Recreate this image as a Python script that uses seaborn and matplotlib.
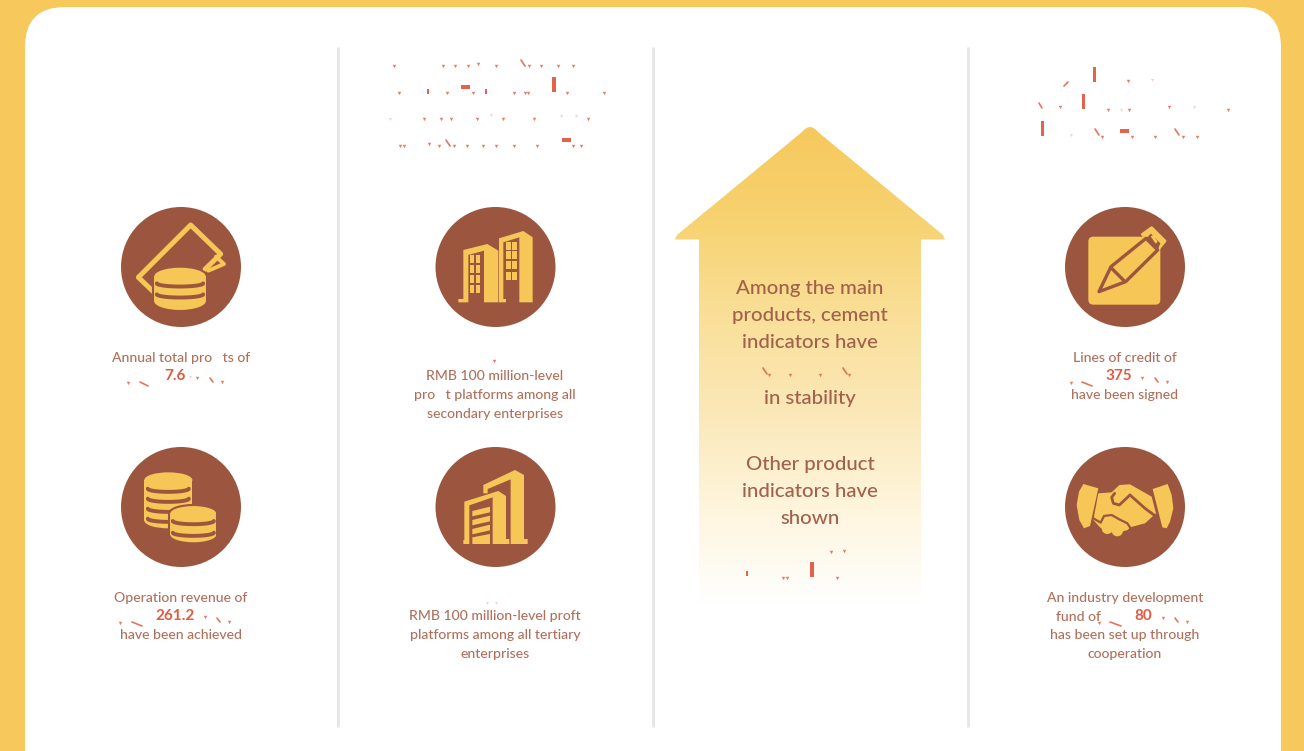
import numpy as np
import seaborn as sns
import matplotlib.pyplot as plt
from matplotlib.patches import Circle, Ellipse, FancyBboxPatch, PathPatch, Polygon, Rectangle
from matplotlib.path import Path

sns.set_theme(style="white")
plt.rcParams["font.family"] = ["Lato", "DejaVu Sans"]

YELLOW = "#F7C95C"
ICON = "#F6C656"
BROWN = "#9C5640"
TEXT = "#B0705C"
TEXT_MID = "#A2614B"
RED = "#E25A40"

# text lines: (x centre, y centre, string)
small_lines = [
    (181, 357, "Annual total pro   ts of"),
    (181, 597, "Operation revenue of"),
    (181, 634, "have been achieved"),
    (495, 375, "RMB 100 million-level"),
    (495, 394, "pro   t platforms among all"),
    (495, 413, "secondary enterprises"),
    (495, 615, "RMB 100 million-level proft"),
    (495, 634, "platforms among all tertiary"),
    (495, 653, "enterprises"),
    (1125, 357, "Lines of credit of"),
    (1125, 394, "have been signed"),
    (1125, 597, "An industry development"),
    (1078, 616, "fund of"),
    (1125, 634, "has been set up through"),
    (1125, 653, "cooperation"),
]
arrow_lines = [
    (810, 287, "Among the main"),
    (810, 314, "products, cement"),
    (810, 341, "indicators have"),
    (810, 397, "in stability"),
    (810, 463, "Other product"),
    (810, 490, "indicators have"),
    (810, 517, "shown"),
]
values = [(175, 376, "7.6"), (175, 616, "261.2"), (1119, 376, "375"), (1143, 616, "80")]

circle_x = [181, 495.5, 1125]
circle_y = [267, 507]
divider_x = [338, 653, 968]

# leftovers of the missing glyphs
frag_bars = [
    (552, 77, 4, 15), (461, 85, 9, 4), (562, 138, 9, 4), (427, 89, 2, 5), (485, 89, 2, 5),
    (1093, 67, 3.4, 15), (1082, 94, 3.4, 15), (1041, 121, 3.4, 15), (1120, 129, 8.5, 4),
    (810, 562, 4, 15), (746, 571, 2, 5),
]
frag_strokes = [
    (140, 382, 148, 386), (132, 622, 142, 626), (1082, 382, 1092, 386), (1110, 622, 1121, 626),
    (521, 60, 525, 66), (446, 140, 450, 146), (1039, 103, 1042, 108), (1095, 129, 1099, 135),
    (1175, 129, 1179, 135), (763, 368, 767, 374), (843, 368, 847, 374), (1064, 86, 1068, 82),
    (210, 378, 213, 382), (217, 618, 220, 622), (1155, 378, 1158, 382), (1175, 618, 1178, 622),
]
frag_ticks_x = [394, 443, 455, 468, 478, 496, 529, 541, 558, 573,
                399, 447, 473, 514, 525, 528, 567, 604,
                424, 441, 451, 477, 503, 534, 588,
                400, 404, 429, 439, 454, 467, 483, 496, 514, 537, 573, 581,
                1128, 1060, 1108, 1129, 1169, 1228, 1102, 1132, 1155, 1183, 1197,
                128, 197, 222,
                120, 205, 229,
                1071, 1142, 1167,
                1099, 1163, 1187,
                494, 769, 790, 820, 849, 831, 844, 783, 787, 837]
frag_ticks_y = [66, 66, 66, 66, 64, 66, 66, 66, 66, 66,
                93, 93, 93, 93, 93, 93, 93, 93,
                119, 119, 119, 119, 119, 119, 119,
                146, 146, 144, 146, 146, 146, 146, 146, 146, 146, 146, 146,
                81, 107, 110, 110, 107, 110, 137, 137, 137, 137, 137,
                383, 378, 382,
                623, 617, 622,
                383, 378, 382,
                623, 618, 622,
                361, 375, 375, 375, 375, 552, 551, 578, 578, 578]
faint_x = [390, 561, 576, 491, 1152, 1121, 1194, 1071, 190, 487, 496]
faint_y = [119, 116, 116, 115, 80, 110, 107, 135, 377, 603, 603]


def zpts(points, ox, oy):
    return [(ox + x / 3, oy + y / 3) for x, y in points]


def poly(ax, points, ox, oy, color=ICON, z=4, **kw):
    ax.add_patch(Polygon(zpts(points, ox, oy), closed=True, fc=color, ec="none", zorder=z, **kw))


def coins(ax, ox, oy, cx, top, bottom, rx, ry, stripes, z=4, edge=False):
    c, t, b, r, h = ox + cx / 3, oy + top / 3, oy + bottom / 3, rx / 3, ry / 3
    lw = 1.5 if edge else 0
    ec = BROWN if edge else "none"
    ax.add_patch(Ellipse((c, b), 2 * r, 2 * h, fc=ICON, ec=ec, lw=lw, zorder=z))
    ax.add_patch(Ellipse((c, t), 2 * r, 2 * h, fc=ICON, ec=ec, lw=lw, zorder=z))
    ax.add_patch(Rectangle((c - r, t), 2 * r, b - t, fc=ICON, ec="none", zorder=z))
    if edge:
        ax.plot([c - r, c - r], [t, b], color=BROWN, lw=lw, zorder=z)
        ax.plot([c + r, c + r], [t, b], color=BROWN, lw=lw, zorder=z)
    ang = np.linspace(0, np.pi, 40)
    for s in stripes:
        ax.plot(c + (r - 3.5) * np.cos(ang), oy + s / 3 + 3.2 * np.sin(ang), color=BROWN, lw=2.8,
                solid_capstyle="round", zorder=z + 1)


def icon_cash(ax, ox, oy):
    card = zpts([(160, 275), (115, 232), (272, 75), (362, 162), (315, 208)], ox, oy)
    ax.plot(*zip(*card), color=ICON, lw=3.6, solid_capstyle="round", solid_joinstyle="round", zorder=3)
    back = zpts([(348, 170), (372, 192), (325, 212)], ox, oy)
    ax.plot(*zip(*back), color=ICON, lw=2.8, solid_joinstyle="round", zorder=3)
    coins(ax, ox, oy, 240, 228, 305, 80, 28, [250, 283], edge=True)


def icon_stacks(ax, ox, oy):
    coins(ax, ox, oy, 205, 120, 242, 72, 23, [146, 176, 206, 236])
    coins(ax, ox, oy, 280, 220, 285, 72, 25, [243, 278], z=6, edge=True)


def icon_towers(ax, ox, oy):
    # left tower
    poly(ax, [(190, 150), (262, 132), (295, 152), (295, 307), (252, 307), (252, 152), (205, 165),
              (205, 307), (175, 307), (175, 297), (190, 297)], ox, oy)
    # right tower
    poly(ax, [(297, 115), (370, 93), (398, 112), (398, 307), (358, 307), (358, 112), (310, 127),
              (310, 297), (318, 297), (318, 307), (297, 307)], ox, oy)
    for wx in (209, 227):
        for wy in (165, 195, 225, 255):
            poly(ax, [(wx, wy), (wx + 14, wy), (wx + 14, wy + 24), (wx, wy + 24)], ox, oy)
    for wx in (317, 335):
        for wy in (125, 153, 184, 215):
            poly(ax, [(wx, wy), (wx + 15, wy), (wx + 15, wy + 24), (wx, wy + 24)], ox, oy)


def icon_blocks(ax, ox, oy):
    poly(ax, [(250, 135), (345, 90), (372, 105), (372, 297), (383, 297), (383, 312), (332, 312),
              (332, 118), (263, 147), (263, 160), (250, 160)], ox, oy)
    poly(ax, [(193, 185), (295, 153), (318, 168), (318, 297), (328, 297), (328, 312), (278, 312),
              (278, 172), (208, 196), (208, 312), (190, 312), (190, 300), (193, 300)], ox, oy)
    for top in (205, 232, 259):
        poly(ax, [(217, top + 8), (270, top - 5), (270, top + 12), (217, top + 24)], ox, oy)
    poly(ax, [(217, 292), (270, 282), (270, 312), (217, 312)], ox, oy)


def icon_pencil(ax, ox, oy):
    x0, y0 = ox + 10 / 3, oy + 35 / 3
    ax.add_patch(FancyBboxPatch((x0 + 5, y0 + 5), 62, 58, boxstyle="round,pad=5,rounding_size=5",
                                fc=ICON, ec="none", zorder=4))
    # end of the pencil sticks out of the square
    cap = zpts([(172, 28), (200, 8), (240, 48), (218, 75)], ox, oy)
    ax.add_patch(Polygon(cap, closed=True, fc=ICON, ec=ICON, lw=2, joinstyle="round", zorder=4))
    body = zpts([(42, 200), (78, 125), (183, 40), (218, 75), (122, 170)], ox, oy)
    ax.add_patch(Polygon(body, closed=True, fc=ICON, ec=BROWN, lw=2.4, joinstyle="round", zorder=5))
    poly(ax, [(183, 40), (198, 26), (226, 55), (218, 75)], ox, oy, color=BROWN, z=6)
    poly(ax, [(197, 34), (206, 30), (218, 50), (212, 56)], ox, oy, z=7)
    band = zpts([(80, 130), (116, 166)], ox, oy)
    ax.plot(*zip(*band), color=BROWN, lw=2.4, zorder=6)


def icon_shake(ax, ox, oy):
    poly(ax, [(160, 132), (205, 145), (180, 258), (162, 265), (148, 240), (140, 195), (147, 155)], ox, oy)
    poly(ax, [(368, 147), (413, 132), (425, 165), (430, 205), (420, 245), (410, 265), (397, 262)], ox, oy)
    poly(ax, [(205, 160), (245, 157), (268, 135), (300, 133), (365, 170), (378, 220), (345, 250),
              (300, 262), (270, 280), (230, 275), (210, 262), (190, 240)], ox, oy)
    for cx, cy, r in [(232, 265, 17), (262, 272, 17), (285, 258, 14)]:
        ax.add_patch(Circle((ox + cx / 3, oy + cy / 3), r / 3, fc=ICON, ec="none", zorder=4))
    line = zpts([(300, 165), (268, 195), (250, 190), (245, 172), (254, 160)], ox, oy)
    ax.plot(*zip(*line), color=BROWN, lw=2, zorder=5, solid_joinstyle="round", solid_capstyle="round")
    line = zpts([(300, 165), (345, 205), (372, 225)], ox, oy)
    ax.plot(*zip(*line), color=BROWN, lw=2, zorder=5)
    line = zpts([(190, 235), (212, 248), (222, 228), (245, 225), (268, 238), (292, 250), (300, 262)], ox, oy)
    ax.plot(*zip(*line), color=BROWN, lw=1.6, zorder=5, solid_joinstyle="round")


fig = plt.figure(figsize=(13.04, 7.51), dpi=100, facecolor=YELLOW)
ax = fig.add_axes([0, 0, 1, 1])
ax.set_facecolor(YELLOW)

# white card, runs off the bottom
ax.add_patch(FancyBboxPatch((65, 47), 1176, 800, boxstyle="round,pad=40,rounding_size=40",
                            fc="white", ec="none", zorder=1))

for x in divider_x:
    ax.plot([x, x], [47, 727], color="#E6E6E6", lw=2, solid_capstyle="butt", zorder=2)

for x in circle_x:
    for y in circle_y:
        ax.add_patch(Circle((x, y), 60, fc=BROWN, ec="none", zorder=2))

icon_cash(ax, 100, 200)
icon_stacks(ax, 100, 440)
icon_towers(ax, 400, 200)
icon_blocks(ax, 400, 440)
icon_pencil(ax, 1085, 225)
icon_shake(ax, 1030, 440)

# arrow with the fade to white, apex and wing tips slightly rounded
arrow_verts = [(802, 132), (810, 122), (818, 132), (943, 235), (945, 239.5), (921, 239.5),
               (921, 605), (699, 605), (699, 239.5), (675, 239.5), (677, 235), (802, 132)]
arrow_codes = [Path.MOVETO, Path.CURVE3, Path.CURVE3, Path.LINETO, Path.LINETO, Path.LINETO,
               Path.LINETO, Path.LINETO, Path.LINETO, Path.LINETO, Path.LINETO, Path.CLOSEPOLY]
arrow = PathPatch(Path(arrow_verts, arrow_codes), fc="none", ec="none", transform=ax.transData)
ax.add_patch(arrow)
fade = sns.blend_palette(["#F6C85C", "#F7D270", "#F9DF98", "#FBE8B8", "#FEF5DD", "#FFFFFF"], n_colors=256)
grad = np.array(fade)[:, None, :]
im = ax.imshow(grad, extent=(675, 945, 605, 122), aspect="auto", zorder=3, interpolation="bilinear")
im.set_clip_path(arrow)

ax.set_xlim(0, 1304)
ax.set_ylim(751, 0)
ax.set_axis_off()

for x, y, s in small_lines:
    ax.text(x, y + 1, s, ha="center", va="center", fontsize=10.1, fontweight="medium", color=TEXT, zorder=8)
for x, y, s in arrow_lines:
    ax.text(x, y + 1.5, s, ha="center", va="center", fontsize=14.7, fontweight="medium", color=TEXT_MID, zorder=8)
for x, y, s in values:
    ax.text(x, y, s, ha="center", va="center", fontsize=11, fontweight="bold", color=RED, zorder=8)

for x, y, w, h in frag_bars:
    ax.add_patch(Rectangle((x, y), w, h, fc=RED, ec="none", alpha=0.95, zorder=8))
for x1, y1, x2, y2 in frag_strokes:
    ax.plot([x1, x2], [y1, y2], color=RED, lw=1.2, alpha=0.85, zorder=8)
ax.scatter(frag_ticks_x, frag_ticks_y, s=6, marker="v", color=RED, alpha=0.8, linewidths=0, zorder=8)
ax.scatter(faint_x, faint_y, s=5, marker="v", color=RED, alpha=0.25, linewidths=0, zorder=8)

fig.savefig("out.png", dpi=100, facecolor=YELLOW)
